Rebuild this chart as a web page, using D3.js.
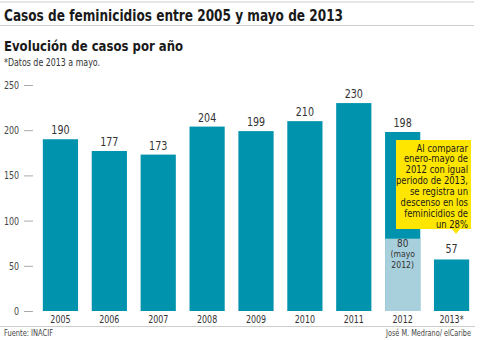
<!DOCTYPE html>
<html>
<head>
<meta charset="utf-8">
<script src="https://cdn.jsdelivr.net/npm/d3@7"></script>
<style>
body { margin:0; background:#fff; }
text { font-family: "DejaVu Sans Condensed", "DejaVu Sans", sans-serif; }
</style>
</head>
<body>
<div id="chart-area"></div>
<script>
const YEARS = ['2005','2006','2007','2008','2009','2010','2011','2012','2013*']
const CASES = [190,177,173,204,199,210,230,198,57]
const MAY_2012 = 80
const Y_TICKS = [0,50,100,150,200,250]
const NOTE_LINES = ['Al comparar','enero-mayo de','2012 con igual','periodo de 2013,','se registra un','descenso en los','feminicidios de','un 28%']

const W = 480, H = 340
const MARGIN = {LEFT:36, RIGHT:4, TOP:85, BOTTOM:29}

// the reference uses a condensed face, so squeeze text horizontally
function squeeze(sel, f) {
  sel.each(function() {
    const len = this.getComputedTextLength()
    d3.select(this).attr('textLength', len*f).attr('lengthAdjust','spacingAndGlyphs')
  })
}

const svg = d3.select('#chart-area')
.append('svg')
.attr('width',W)
.attr('height',H)

// header
svg.append('line').attr('x1',0).attr('x2',474).attr('y1',2).attr('y2',2).attr('stroke','#ccc')
svg.append('text')
.attr('x',4).attr('y',21)
.attr('font-size','16px').attr('font-weight','bold').attr('fill','#1a1a1a')
.attr('textLength',339).attr('lengthAdjust','spacingAndGlyphs')
.text('Casos de feminicidios entre 2005 y mayo de 2013')
svg.append('line').attr('x1',0).attr('x2',474).attr('y1',25.5).attr('y2',25.5).attr('stroke','#ccc')
svg.append('text')
.attr('x',4).attr('y',51)
.attr('font-size','14.5px').attr('font-weight','bold').attr('fill','#1a1a1a')
.attr('textLength',179).attr('lengthAdjust','spacingAndGlyphs')
.text('Evolución de casos por año')
svg.append('text')
.attr('x',4).attr('y',66)
.attr('font-size','10px').attr('fill','#333')
.attr('textLength',96).attr('lengthAdjust','spacingAndGlyphs')
.text('*Datos de 2013 a mayo.')

const x = d3.scaleBand()
.domain(YEARS)
.range([MARGIN.LEFT, W-MARGIN.RIGHT])
.paddingInner(0.28)
.paddingOuter(0.14)

const y = d3.scaleLinear()
.domain([0,250])
.range([H-MARGIN.BOTTOM, MARGIN.TOP])

// y axis
const yAxis = svg.append('g')
.attr('transform','translate(33,0)')
.call(d3.axisLeft(y).tickValues(Y_TICKS).tickSize(9).tickPadding(5))
yAxis.select('.domain').remove()
yAxis.selectAll('line').attr('stroke','#aaa')
yAxis.selectAll('text').attr('font-size','11px').attr('fill','#444')
.attr('font-family','"DejaVu Sans Condensed", sans-serif')
squeeze(yAxis.selectAll('text'), 0.8)

const data = YEARS.map((d,i) => ({year:d, value:CASES[i]}))

svg.selectAll('rect.bar')
.data(data)
.enter().append('rect')
.attr('class','bar')
.attr('x',d => x(d.year))
.attr('y',d => y(d.value))
.attr('width',x.bandwidth())
.attr('height',d => y(0) - y(d.value))
.attr('fill','#0093ad')

// May 2012 portion
svg.append('rect')
.attr('x',x('2012'))
.attr('y',y(MAY_2012))
.attr('width',x.bandwidth())
.attr('height',y(0)-y(MAY_2012))
.attr('fill','#a8cfdc')

const vals = svg.selectAll('text.val')
.data(data)
.enter().append('text')
.attr('class','val')
.attr('x',d => x(d.year)+x.bandwidth()/2)
.attr('y',d => y(d.value) - (d.year==='2013*' ? 6 : 5))
.attr('text-anchor','middle')
.attr('font-size','12.5px')
.attr('fill','#333')
.text(d => d.value)
squeeze(vals, 0.85)

const mayLbl = svg.append('g')
.attr('fill','#333')
;[['80',11,8],['(mayo',9.5,18.5],['2012)',9.5,29]].forEach(t => {
  mayLbl.append('text')
  .attr('text-anchor','middle')
  .attr('x',x('2012')+x.bandwidth()/2)
  .attr('y',y(MAY_2012)+t[2])
  .attr('font-size',t[1]+'px')
  .text(t[0])
})
squeeze(mayLbl.selectAll('text'), 0.9)

// x labels
const yrs = svg.selectAll('text.yr')
.data(YEARS)
.enter().append('text')
.attr('class','yr')
.attr('x',d => x(d)+x.bandwidth()/2)
.attr('y',323)
.attr('text-anchor','middle')
.attr('font-size','11px')
.attr('fill','#333')
.text(d => d)
squeeze(yrs, 0.8)

svg.append('line').attr('x1',0).attr('x2',475).attr('y1',326.5).attr('y2',326.5).attr('stroke','#ccc')

svg.append('text')
.attr('x',4).attr('y',335.5)
.attr('font-size','9px').attr('fill','#444')
.attr('textLength',49).attr('lengthAdjust','spacingAndGlyphs')
.text('Fuente: INACIF')
svg.append('text')
.attr('x',386).attr('y',335.5)
.attr('font-size','9px').attr('fill','#444')
.attr('textLength',85).attr('lengthAdjust','spacingAndGlyphs')
.text('José M. Medrano/ elCaribe')

// callout
const bx = 396, by = 140, bw = 75, bh = 89
svg.append('path')
.attr('d',`M${bx},${by}h${bw}v${bh}h-11l-4,5l-4,-5H${bx}Z`)
.attr('fill','#ffe600')
const note = svg.append('g')
.attr('font-size','10px')
.attr('fill','#1a1a1a')
note.selectAll('text')
.data(NOTE_LINES)
.enter().append('text')
.attr('text-anchor','end')
.attr('x',bx+bw-3)
.attr('y',(d,i) => by+11.5+i*10.9)
.text(d => d)
const widest = d3.max(note.selectAll('text').nodes(), n => n.getComputedTextLength())
squeeze(note.selectAll('text'), 72/widest)
</script>
</body>
</html>
